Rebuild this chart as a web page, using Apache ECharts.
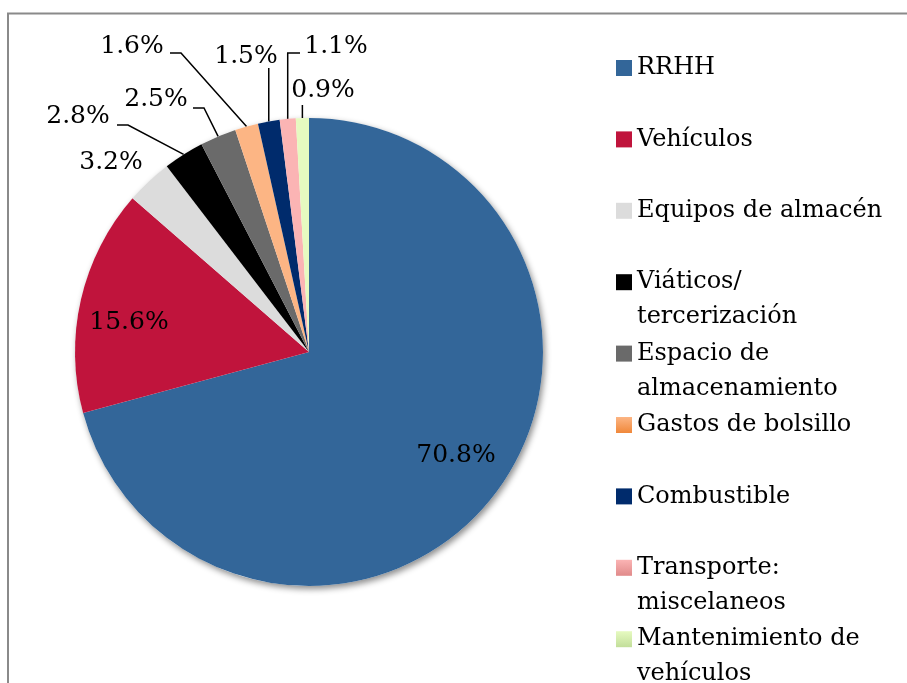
<!DOCTYPE html>
<html>
<head>
<meta charset="utf-8">
<script src="https://cdn.jsdelivr.net/npm/echarts@6/dist/echarts.min.js"></script>
<style>
  html, body { margin: 0; padding: 0; background: #fff; }
  #chart { width: 907px; height: 683px; }
</style>
</head>
<body>
<div id="chart"></div>
<script>
// categorias y porcentajes
const categories = [
  'RRHH',
  'Vehículos',
  'Equipos de almacén',
  'Viáticos/ tercerización',
  'Espacio de almacenamiento',
  'Gastos de bolsillo',
  'Combustible',
  'Transporte: miscelaneos',
  'Mantenimiento de vehículos'
]
const legendText = [
  'RRHH',
  'Vehículos',
  'Equipos de almacén',
  'Viáticos/\ntercerización',
  'Espacio de\nalmacenamiento',
  'Gastos de bolsillo',
  'Combustible',
  'Transporte:\nmiscelaneos',
  'Mantenimiento de\nvehículos'
]
const values = [70.8, 15.6, 3.2, 2.8, 2.5, 1.6, 1.5, 1.1, 0.9]
const colors = ['#336699', '#C0143C', '#DCDCDC', '#000000', '#6A6A6A', '#FCB584', '#002B6C', '#FBB4B4', '#E6FAC0']
// degradado de la leyenda (estilo Excel)
const legendGrad = { 5: ['#FCB584', '#F0883A'], 7: ['#FBB4B4', '#E08A8A'], 8: ['#E6FAC0', '#C2DE9A'] }

// posicion de las etiquetas: [x, y, finX, finY, tipo]  tipo: 'in' interior, 'free' sin linea, 'side', 'up'
const labelSpots = [
  [456, 455, 0, 0, 'in'],
  [129, 322, 0, 0, 'in'],
  [111, 162, 0, 0, 'free'],
  [78, 116, 117, 125, 'side'],
  [156, 99, 193, 108, 'side'],
  [132, 46, 170, 53, 'side'],
  [246, 56, null, 68, 'up'],
  [336, 46, 300, 53, 'up'],
  [323, 90, null, 105, 'up']
]

const FONT = 'DejaVu Serif'
const LINE_H = 35
const BLANK = '\u00a0'

const myChart = echarts.init(document.getElementById('chart'))

const pieData = values.map((v, i) => {
  const spot = labelSpots[i]
  return {
    name: categories[i],
    value: v,
    itemStyle: { color: colors[i] },
    labelLine: { show: spot[4] === 'side' || spot[4] === 'up' }
  }
})

const legendData = categories.map((n, i) => {
  const item = { name: n }
  if (legendGrad[i]) {
    item.itemStyle = {
      color: new echarts.graphic.LinearGradient(0, 0, 0, 1, [
        { offset: 0, color: legendGrad[i][0] },
        { offset: 1, color: legendGrad[i][1] }
      ])
    }
  }
  return item
})

// cada entrada ocupa 3 lineas para que el icono quede en la primera linea del texto
function legendLabel(name) {
  const txt = legendText[categories.indexOf(name)]
  return txt.indexOf('\n') >= 0 ? BLANK + '\n' + txt : BLANK + '\n' + txt + '\n' + BLANK
}

const option = {
  backgroundColor: '#fff',
  animation: false,
  graphic: [
    {
      type: 'rect',
      silent: true,
      shape: { x: 8, y: 13.5, width: 1000, height: 1000 },
      style: { fill: 'none', stroke: '#8a8a8a', lineWidth: 2 }
    }
  ],
  legend: {
    orient: 'vertical',
    left: 616,
    top: 15.5,
    height: 800,
    padding: 0,
    itemGap: 71.4 - 3 * LINE_H,
    itemWidth: 16,
    itemHeight: 16,
    icon: 'rect',
    selectedMode: false,
    formatter: legendLabel,
    textStyle: {
      fontFamily: FONT,
      fontSize: 24,
      lineHeight: LINE_H,
      color: '#000'
    },
    data: legendData
  },
  series: [
    {
      // sombra del pastel
      type: 'pie',
      silent: true,
      center: [309, 352],
      radius: [0, 234],
      label: { show: false },
      labelLine: { show: false },
      data: [{ value: 1, itemStyle: { color: '#fff', shadowColor: 'rgba(0,0,0,0.45)', shadowBlur: 6, shadowOffsetX: 2, shadowOffsetY: 3 } }],
      z: 1
    },
    {
      type: 'pie',
      center: [309, 352],
      radius: [0, 234],
      startAngle: 90,
      clockwise: true,
      avoidLabelOverlap: false,
      itemStyle: { borderWidth: 0 },
      label: {
        show: true,
        position: 'outside',
        formatter: p => p.value.toFixed(1) + '%',
        fontFamily: FONT,
        fontSize: 25,
        color: '#000'
      },
      labelLine: {
        show: true,
        length: 10,
        length2: 10,
        lineStyle: { color: '#000', width: 1.5 }
      },
      emphasis: { scale: false },
      labelLayout: params => {
        const spot = labelSpots[params.dataIndex]
        const res = { x: spot[0], y: spot[1], align: 'center', verticalAlign: 'middle' }
        const pts = params.labelLinePoints
        if (pts && (spot[4] === 'side' || spot[4] === 'up')) {
          const edge = pts[0]
          if (spot[4] === 'side') {
            res.labelLinePoints = [edge, [spot[2] + 11, spot[3]], [spot[2], spot[3]]]
          } else {
            const endX = spot[2] == null ? edge[0] : spot[2]
            res.labelLinePoints = [edge, [edge[0], spot[3]], [endX, spot[3]]]
          }
        }
        return res
      },
      data: pieData,
      z: 2
    }
  ]
}

myChart.setOption(option)
</script>
</body>
</html>
